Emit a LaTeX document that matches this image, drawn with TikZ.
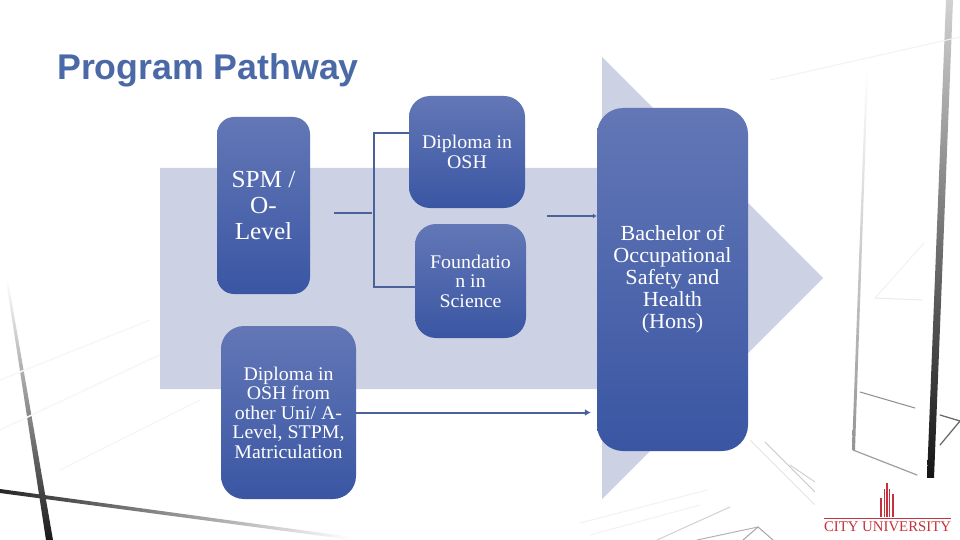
\documentclass[tikz,border=0pt]{standalone}
\usepackage{fontspec}
\setmainfont[FakeStretch=1.03]{Liberation Serif}
\newfontfamily\titlefont{Liberation Sans}
\newfontfamily\logofont{Liberation Serif}
\usetikzlibrary{calc,arrows.meta}
\definecolor{boxtop}{HTML}{6377B6}
\definecolor{boxmid}{HTML}{4362AD}
\definecolor{boxbot}{HTML}{3A56A3}
\definecolor{band}{HTML}{CDD1E4}
\definecolor{wire}{HTML}{4A6199}
\definecolor{titleblue}{HTML}{4A69A6}
\definecolor{logored}{HTML}{C4323C}
\tikzset{
  stage/.style={inner sep=0pt,rounded corners=#1,top color=boxtop,middle color=boxmid,bottom color=boxbot,text=white,align=center},
  stage/.default=20pt,
  wirestyle/.style={draw=wire,line width=2pt},
  frame/.style={line cap=round,line width=#1},
  frame/.default=1pt,
  smalltext/.style={font=\fontsize{19.3}{19.5}\selectfont},
  bigtext/.style={font=\fontsize{21.5}{22}\selectfont},
  spmtext/.style={font=\fontsize{24.5}{26}\selectfont}
}
\begin{document}
\begin{tikzpicture}[x=1pt,y=-1pt]
\useasboundingbox (0,0) rectangle (960,540);
\fill[white] (0,0) rectangle (960,540);
% faint photographic background: left cross
\shade[top color=white,bottom color=black!90] (6,280) -- (8,280) -- (53,540) -- (46,540) -- cycle;
\shade[left color=black!85,right color=white] (0,489) -- (352,537) -- (352,540) -- (0,493) -- cycle;
\foreach \a/\b/\c/\d in {0/380/150/320,0/430/170/350,60/470/200/400}
  {\draw[frame=1.5pt,black!3] (\a,\b) -- (\c,\d);}
% right window
\shade[top color=black!18,bottom color=black!92] (946,0) -- (953,0) -- (934,478) -- (927,478) -- cycle;
\shade[top color=white,bottom color=black!42] (866,70) -- (868,70) -- (855,450) -- (852,450) -- cycle;
\draw[frame=1.2pt,black!38] (853,450) -- (917,475);
\draw[frame=1pt,black!45] (860,392) -- (915,408);
\draw[frame=1pt,black!8] (875,298) -- (922,300);
\draw[frame=.8pt,black!6] (875,298) -- (924,243);
\draw[frame=1.2pt,black!60] (940,415) -- (960,421);
\draw[frame=1.2pt,black!60] (940,445) -- (960,421);
\draw[frame=1pt,black!5] (770,80) -- (960,37);
\foreach \a/\b/\c/\d/\g in {750/440/815/505/10,765/442/815/492/22,790/465/815/482/18,657/540/730/507/18,697/540/758/527/30,743/540/758/527/35,758/527/773/540/35,580/523/707/490/5,590/535/700/505/5}
  {\draw[frame=1pt,black!\g] (\a,\b) -- (\c,\d);}
% background arrow
\fill[band] (160,168) -- (602,168) -- (602,57) -- (823,278) -- (602,499) -- (602,389) -- (160,389) -- cycle;
% stages
\node[stage=17pt,spmtext,minimum width=93pt,minimum height=177pt] (spm) at (263.5,205.5) {SPM /\\O-\\Level};
\node[stage=21pt,smalltext,minimum width=116pt,minimum height=112pt] (dip) at (467,152) {Diploma in\\OSH};
\node[stage=21pt,smalltext,minimum width=111pt,minimum height=114pt] (fou) at (470.5,281) {Foundatio\\n in\\Science};
\node[stage=23pt,smalltext,minimum width=135pt,minimum height=173pt] (oth) at (288.5,412.5) {Diploma in\\OSH from\\other Uni/ A-\\Level, STPM,\\Matriculation};
\node[stage=26pt,bigtext,minimum width=151pt,minimum height=343pt] (bach) at (672.5,279.5) {Bachelor of\\Occupational\\Safety and\\Health\\(Hons)};
% connectors
\coordinate (stub) at (334,213);
\coordinate (elbow) at (374,213);
\coordinate (dipin) at ($(dip.north west)!0.33!(dip.south west)$);
\coordinate (fouin) at ($(fou.north west)!0.553!(fou.south west)$);
\coordinate (out) at (547,216);
\draw[wirestyle] (stub) -- (372,213);
\draw[wirestyle] (dipin) -- (elbow |- dipin) -- (elbow |- fouin) -- (fouin);
\draw[wirestyle,-{Latex[length=4pt,width=5pt]}] (out) -- (out -| bach.west);
\draw[wirestyle,shorten >=6pt,-{Latex[length=6pt,width=7pt]}] (oth.east) -- (oth.east -| bach.west);
% logo
\fill[white] (815,478) rectangle (960,540);
\draw[logored,line width=1pt] (824,518) -- (951,518);
\foreach \x/\t in {881/498,884.5/489,887/483,889.5/489,893/494}
  {\draw[logored,line width=1.6pt] (\x,517) -- (\x,\t);}
\node[inner sep=0pt,text=logored,font=\logofont\fontsize{14.8}{16}\selectfont] (logo) at (887.5,526.5) {CITY UNIVERSITY};
% title
\node[anchor=base west,inner sep=0pt,text=titleblue,font=\titlefont\bfseries\fontsize{35.7}{40}\selectfont] (title) at (57,80) {Program Pathway};
\end{tikzpicture}
\end{document}
